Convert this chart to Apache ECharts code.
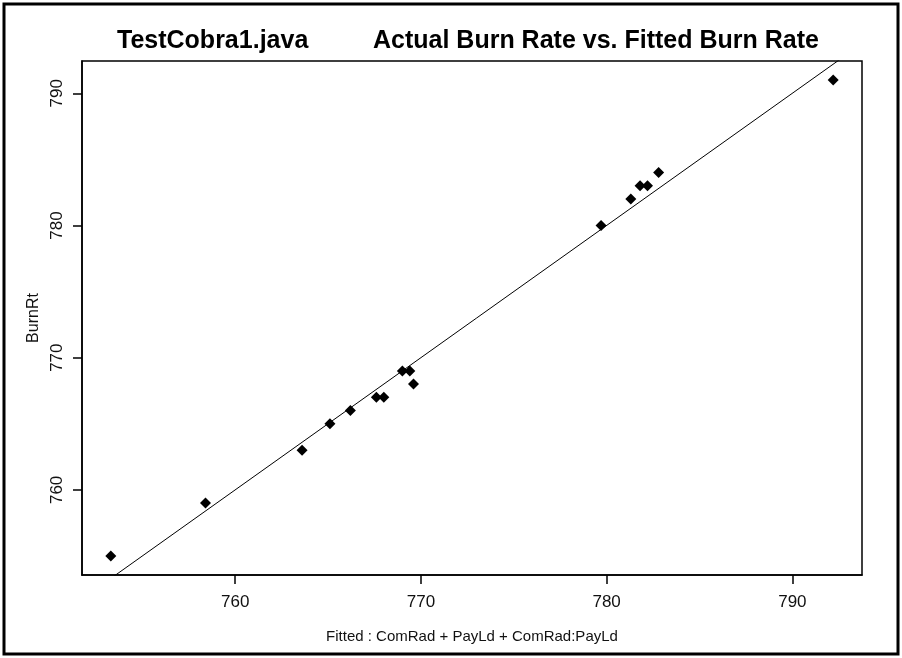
<!DOCTYPE html>
<html>
<head>
<meta charset="utf-8">
<script src="https://cdn.jsdelivr.net/npm/echarts@6/dist/echarts.min.js"></script>
<style>
  html, body { margin: 0; padding: 0; background: #fff; }
  #chart { width: 902px; height: 658px; }
</style>
</head>
<body>
<div id="chart"></div>
<script>
// fitted values (x) and observed burn rate (y)
const fitted = [753.3, 758.4, 763.6, 765.1, 766.2, 767.6, 768.0, 769.0, 769.4, 769.6, 779.7, 781.3, 781.8, 782.2, 782.8, 792.2]
const burnRt = [755, 759, 763, 765, 766, 767, 767, 769, 769, 768, 780, 782, 783, 783, 784, 791]
const xTicks = [760, 770, 780, 790]
const yTicks = [760, 770, 780, 790]
const xRange = [751.75, 793.75]
const yRange = [753.56, 792.44]

const font = "'Liberation Sans Narrow', 'Liberation Sans', Arial, sans-serif"
const titleFont = "'Liberation Sans', Arial, sans-serif"

const points = fitted.map((f, i) => [f, burnRt[i]])
// identity reference line y = x across the plot
const refLine = [[xRange[0], xRange[0]], [xRange[1], xRange[1]]]

const myChart = echarts.init(document.getElementById('chart'))

const option = {
  backgroundColor: '#ffffff',
  animation: false,
  title: [
    {
      text: 'TestCobra1.java',
      left: 112,
      top: 24,
      textStyle: { fontFamily: titleFont, fontWeight: 'bold', fontSize: 25, color: '#000' },
    },
    {
      text: 'Actual Burn Rate vs. Fitted Burn Rate',
      left: 368,
      top: 24,
      textStyle: { fontFamily: titleFont, fontWeight: 'bold', fontSize: 25, color: '#000' },
    },
  ],
  graphic: [
    {
      type: 'rect',
      shape: { x: 4, y: 4, width: 894, height: 650 },
      style: { fill: 'none', stroke: '#000', lineWidth: 3 },
      silent: true,
    },
  ],
  grid: {
    left: 82,
    right: 40,
    top: 61,
    bottom: 83,
    show: true,
    borderColor: '#000',
    borderWidth: 1.5,
    backgroundColor: '#fff',
  },
  xAxis: {
    type: 'value',
    min: xRange[0],
    max: xRange[1],
    name: 'Fitted : ComRad + PayLd + ComRad:PayLd',
    nameLocation: 'middle',
    nameGap: 54,
    nameTextStyle: { fontFamily: font, fontSize: 15, color: '#111' },
    axisLine: { show: true, onZero: false, lineStyle: { color: '#000', width: 1.5 } },
    axisTick: { show: true, length: 9, customValues: xTicks, lineStyle: { color: '#000', width: 1.5 } },
    axisLabel: { customValues: xTicks, margin: 19, fontFamily: font, fontSize: 17, color: '#111' },
    splitLine: { show: false },
  },
  yAxis: {
    type: 'value',
    min: yRange[0],
    max: yRange[1],
    name: 'BurnRt',
    nameLocation: 'middle',
    nameGap: 35,
    nameRotate: 90,
    nameTextStyle: { fontFamily: font, fontSize: 16, color: '#111' },
    axisLine: { show: true, onZero: false, lineStyle: { color: '#000', width: 1.5 } },
    axisTick: { show: true, length: 9, customValues: yTicks, lineStyle: { color: '#000', width: 1.5 } },
    axisLabel: { customValues: yTicks, rotate: 90, margin: 16, fontFamily: font, fontSize: 17, color: '#111' },
    splitLine: { show: false },
  },
  series: [
    {
      name: 'fit',
      type: 'line',
      data: refLine,
      showSymbol: false,
      clip: true,
      lineStyle: { color: '#000', width: 1 },
      z: 1,
    },
    {
      name: 'BurnRt',
      type: 'scatter',
      data: points,
      symbol: 'diamond',
      symbolSize: 11,
      itemStyle: { color: '#000', opacity: 1 },
      z: 2,
    },
  ],
}

myChart.setOption(option)
</script>
</body>
</html>
